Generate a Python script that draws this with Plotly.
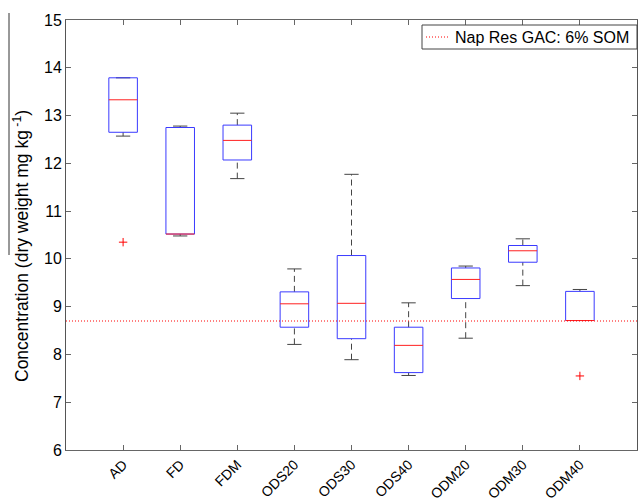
import plotly.graph_objects as go

categories = ["AD", "FD", "FDM", "ODS20", "ODS30", "ODS40", "ODM20", "ODM30", "ODM40"]
q1 = [12.65, 10.52, 12.07, 8.57, 8.33, 7.62, 9.17, 9.93, 8.71]
median = [13.33, 10.52, 12.48, 9.06, 9.07, 8.19, 9.57, 10.17, 8.71]
q3 = [13.79, 12.75, 12.80, 9.31, 10.07, 8.57, 9.81, 10.28, 9.32]
lower_whisker = [12.57, 10.48, 11.68, 8.21, 7.89, 7.56, 8.34, 9.44, 8.71]
upper_whisker = [13.79, 12.78, 13.05, 9.79, 11.77, 9.08, 9.85, 10.42, 9.36]
outlier_cat = ["AD", "ODM40"]
outlier_val = [10.35, 7.55]
ref_value = 8.70
ref_label = "Nap Res GAC: 6% SOM"

FONT = "Liberation Sans, Arial, Helvetica, sans-serif"
BOX_HALF = 0.25
CAP_HALF = 0.125
PW, PH = 571, 430  # plot area in px

pos = {c: i + 1 for i, c in enumerate(categories)}

wx, wy, cx, cy, bx, by, mx, my = [], [], [], [], [], [], [], []
for c, a, m, b, lo, hi in zip(categories, q1, median, q3, lower_whisker, upper_whisker):
    p = pos[c]
    wx += [p, p, None, p, p, None]
    wy += [b, hi, None, lo, a, None]
    cx += [p - CAP_HALF, p + CAP_HALF, None, p - CAP_HALF, p + CAP_HALF, None]
    cy += [hi, hi, None, lo, lo, None]
    bx += [p - BOX_HALF, p + BOX_HALF, p + BOX_HALF, p - BOX_HALF, p - BOX_HALF, None]
    by += [a, a, b, b, a, None]
    mx += [p - BOX_HALF, p + BOX_HALF, None]
    my += [m, m, None]

fig = go.Figure()
fig.add_trace(go.Scatter(x=wx, y=wy, mode="lines", showlegend=False, hoverinfo="skip",
                         line=dict(color="#444444", width=1, dash="6px,4px")))
fig.add_trace(go.Scatter(x=cx, y=cy, mode="lines", showlegend=False, hoverinfo="skip",
                         line=dict(color="#444444", width=1)))
fig.add_trace(go.Scatter(x=bx, y=by, mode="lines", showlegend=False, hoverinfo="skip",
                         line=dict(color="#3a3aff", width=1)))
fig.add_trace(go.Scatter(x=mx, y=my, mode="lines", showlegend=False, hoverinfo="skip",
                         line=dict(color="#ff2020", width=1)))
fig.add_trace(go.Scatter(x=[pos[c] for c in outlier_cat], y=outlier_val, mode="markers",
                         showlegend=False,
                         marker=dict(symbol="cross-thin", size=6, color="red",
                                     line=dict(color="red", width=1))))
fig.add_trace(go.Scatter(x=[0, 10], y=[ref_value, ref_value], mode="lines", name=ref_label,
                         showlegend=False,
                         line=dict(color="red", width=1, dash="1px,2px")))

# legend drawn manually to match the compact reference box
lg_x0, lg_x1 = (422 - 66) / PW, (637 - 66) / PW
lg_y0, lg_y1 = 1 - (49 - 20) / PH, 1 - (25 - 20) / PH
lg_mid = 1 - (37 - 20) / PH
shapes = [
    dict(type="rect", xref="paper", yref="paper", x0=lg_x0, x1=lg_x1, y0=lg_y0, y1=lg_y1,
         line=dict(color="#444444", width=1), fillcolor="white", layer="above"),
    dict(type="line", xref="paper", yref="paper", x0=(426 - 66) / PW, x1=(449 - 66) / PW,
         y0=lg_mid, y1=lg_mid, line=dict(color="red", width=1, dash="1px,2px"), layer="above"),
    dict(type="line", xref="paper", yref="paper",
         x0=-57 / PW, x1=-57 / PW, y0=1 + 7 / PH, y1=1 - 235 / PH,
         line=dict(color="#333333", width=1)),
]
annotations = [
    dict(text=ref_label, xref="paper", yref="paper", x=(453 - 66) / PW, y=lg_mid,
         xanchor="left", yanchor="middle", showarrow=False, font=dict(size=16)),
    dict(text="Concentration (dry weight mg kg<sup> -1</sup>)", xref="paper", yref="paper",
         x=-(66 - 21) / PW, y=(450 - 246) / PH, xanchor="center", yanchor="middle",
         textangle=-90, showarrow=False, font=dict(size=17.5)),
]

fig.update_layout(
    width=638, height=501,
    margin=dict(l=66, r=1, t=20, b=51),
    paper_bgcolor="white", plot_bgcolor="white",
    font=dict(family=FONT, size=16, color="black"),
    showlegend=False,
    shapes=shapes,
    annotations=annotations,
)
fig.update_xaxes(range=[0, 10], tickmode="array", tickvals=list(range(1, len(categories) + 1)),
                 ticktext=categories, tickangle=-45, ticks="inside", ticklen=5,
                 tickcolor="#666666", showline=True, linecolor="#666666", mirror="ticks",
                 showgrid=False, zeroline=False, tickfont=dict(size=14), automargin=False)
fig.update_yaxes(range=[6, 15], dtick=1, ticks="inside", ticklen=5, tickcolor="#666666",
                 showline=True, linecolor="#555555", mirror="ticks", showgrid=False,
                 zeroline=False, tickfont=dict(size=16), automargin=False)

fig.write_html("out.html")
